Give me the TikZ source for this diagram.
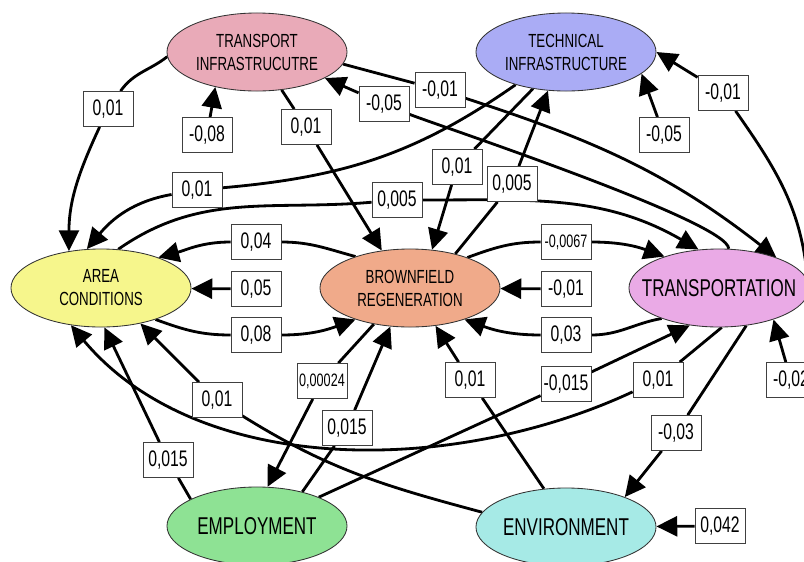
\documentclass[tikz,border=0pt]{standalone}
\usepackage{fontspec}
\setmainfont{Liberation Sans}[FakeStretch=0.7]
\usetikzlibrary{arrows.meta, shapes.geometric, backgrounds}

\definecolor{tipink}{RGB}{233,170,184}
\definecolor{techblue}{RGB}{170,172,245}
\definecolor{areayel}{RGB}{246,246,140}
\definecolor{brnsalmon}{RGB}{240,170,138}
\definecolor{traviolet}{RGB}{234,170,230}
\definecolor{empgreen}{RGB}{142,226,148}
\definecolor{envcyan}{RGB}{166,234,230}

\begin{document}
\begin{tikzpicture}[
  x=0.025cm, y=-0.025cm,
  var/.style={ellipse, draw=black!80, line width=0.6pt, align=center,
              minimum width=4.5cm, minimum height=1.95cm, inner sep=0pt,
              font=\fontsize{13.5}{16.3}\selectfont},
  bigvar/.style={var, inner xsep=-0.45cm, font=\fontsize{17.3}{20}\selectfont},
  coef/.style={draw=black!75, line width=0.6pt, fill=white, inner sep=1pt,
               minimum width=1.25cm, minimum height=0.875cm,
               font=\fontsize{16}{18}\selectfont},
  smallcoef/.style={coef, font=\fontsize{12.8}{14}\selectfont},
  arr/.style={-{Triangle[length=5.2mm, width=5mm]}, line width=2pt},
]
\useasboundingbox (0,0) rectangle (804,561);

% ---- variables ----
\node[var, fill=tipink]       (ti)   at (257,52)  {TRANSPORT\\INFRASTRUCUTRE};
\node[var, fill=techblue]     (tech) at (566,52)  {TECHNICAL\\INFRASTRUCTURE};
\node[var, fill=areayel]      (area) at (101,288) {AREA\\CONDITIONS};
\node[var, fill=brnsalmon]    (brn)  at (410,288) {BROWNFIELD\\REGENERATION};
\node[bigvar, fill=traviolet] (tra)  at (719,288) {TRANSPORTATION};
\node[bigvar, fill=empgreen]  (emp)  at (257,526) {EMPLOYMENT};
\node[bigvar, fill=envcyan]   (env)  at (566,527) {ENVIRONMENT};

% ---- coefficients ----
\node[coef] (c1)  at (108,109) {0,01};
\node[coef] (c2)  at (207,135) {-0,08};
\node[coef] (c3)  at (306,127) {0,01};
\node[coef] (c4)  at (384,104) {-0,05};
\node[coef] (c5)  at (440,90)  {-0,01};
\node[coef] (c6)  at (197,190) {0,01};
\node[coef] (c7)  at (457,167) {0,01};
\node[coef] (c8)  at (512,184) {0,005};
\node[coef] (c9)  at (664,135) {-0,05};
\node[coef] (c10) at (723,93)  {-0,01};
\node[coef] (c11) at (397,200) {0,005};
\node[coef] (c12) at (256,242) {0,04};
\node[coef] (c13) at (256,289) {0,05};
\node[coef] (c14) at (256,335) {0,08};
\node[smallcoef] (c15) at (566,242) {-0,0067};
\node[coef] (c16) at (566,289) {-0,01};
\node[coef] (c17) at (566,335) {0,03};
\node[smallcoef] (c18) at (322,381) {0,00024};
\node[coef] (c19) at (347,428) {0,015};
\node[coef] (c20) at (168,460) {0,015};
\node[coef] (c21) at (217,400) {0,01};
\node[coef] (c22) at (658,380) {0,01};
\node[coef] (c23) at (676,433) {-0,03};
\node[coef] (c24) at (566,384) {-0,015};
\node[coef] (c25) at (470,380) {0,01};
\node[coef] (c26) at (791,380) {-0,02};
\node[coef] (c27) at (720,526) {0,042};

% ---- paths (under the boxes) ----
\begin{scope}[on background layer]
  % infrastructure
  \draw[arr] (ti.183) to[out=218, in=55] (c1) to[out=245, in=90] (area.131);
  \draw[arr] (c2) -- (ti.220);
  \draw[arr] (ti.303) -- (c3) -- (brn.127);
  \draw[arr] (tra.76) to[out=90, in=-22, looseness=0.2] (c4) -- (ti.339);
  \draw[arr] (ti.352) -- (c5) to[out=-18, in=142] (tra.28);
  \draw[arr] (tech.213) to[out=215, in=5] (c6) to[out=190, in=50] (area.110);
  \draw[arr] (tech.228) -- (c7) -- (brn.60);
  \draw[arr] (brn.37) -- (c8) -- (tech.245);
  \draw[arr] (c9) -- (tech.344);
  \draw[arr] (tra.5) to[out=95, in=-55] (c10) -- (tech.0);
  % middle row
  \draw[arr] (area.66) to[out=35, in=185] (c11) to[out=0, in=150] (tra.118);
  \draw[arr] (brn.150) to[out=165, in=0] (c12) to[out=180, in=15] (area.28);
  \draw[arr] (c13) -- (area);
  \draw[arr] (area.330) to[out=-20, in=180] (c14) to[out=0, in=200] (brn.210);
  \draw[arr] (brn.28) to[out=20, in=180] (c15) to[out=0, in=160] (tra.150);
  \draw[arr] (c16) -- (brn);
  \draw[arr] (tra.208) to[out=190, in=0] (c17) to[out=180, in=-20] (brn.330);
  % employment, environment
  \draw[arr] (brn.225) -- (c18) -- (emp.75);
  \draw[arr] (emp.37) -- (c19) -- (brn.243);
  \draw[arr] (emp.158) -- (c20) -- (area.275);
  \draw[arr] (env.170) to[out=165, in=-32] (c21) -- (area.318);
  \draw[arr] (tra.274) -- (c22) to[out=205, in=-50, looseness=0.9] (area.231);
  \draw[arr] (tra.306) -- (c23) -- (env.27);
  \draw[arr] (emp.25) -- (c24) -- (tra.232);
  \draw[arr] (env.120) -- (c25) -- (brn.304);
  \draw[arr] (c26) -- (tra.330);
  \draw[arr] (c27) -- (env);
\end{scope}

\end{tikzpicture}
\end{document}
